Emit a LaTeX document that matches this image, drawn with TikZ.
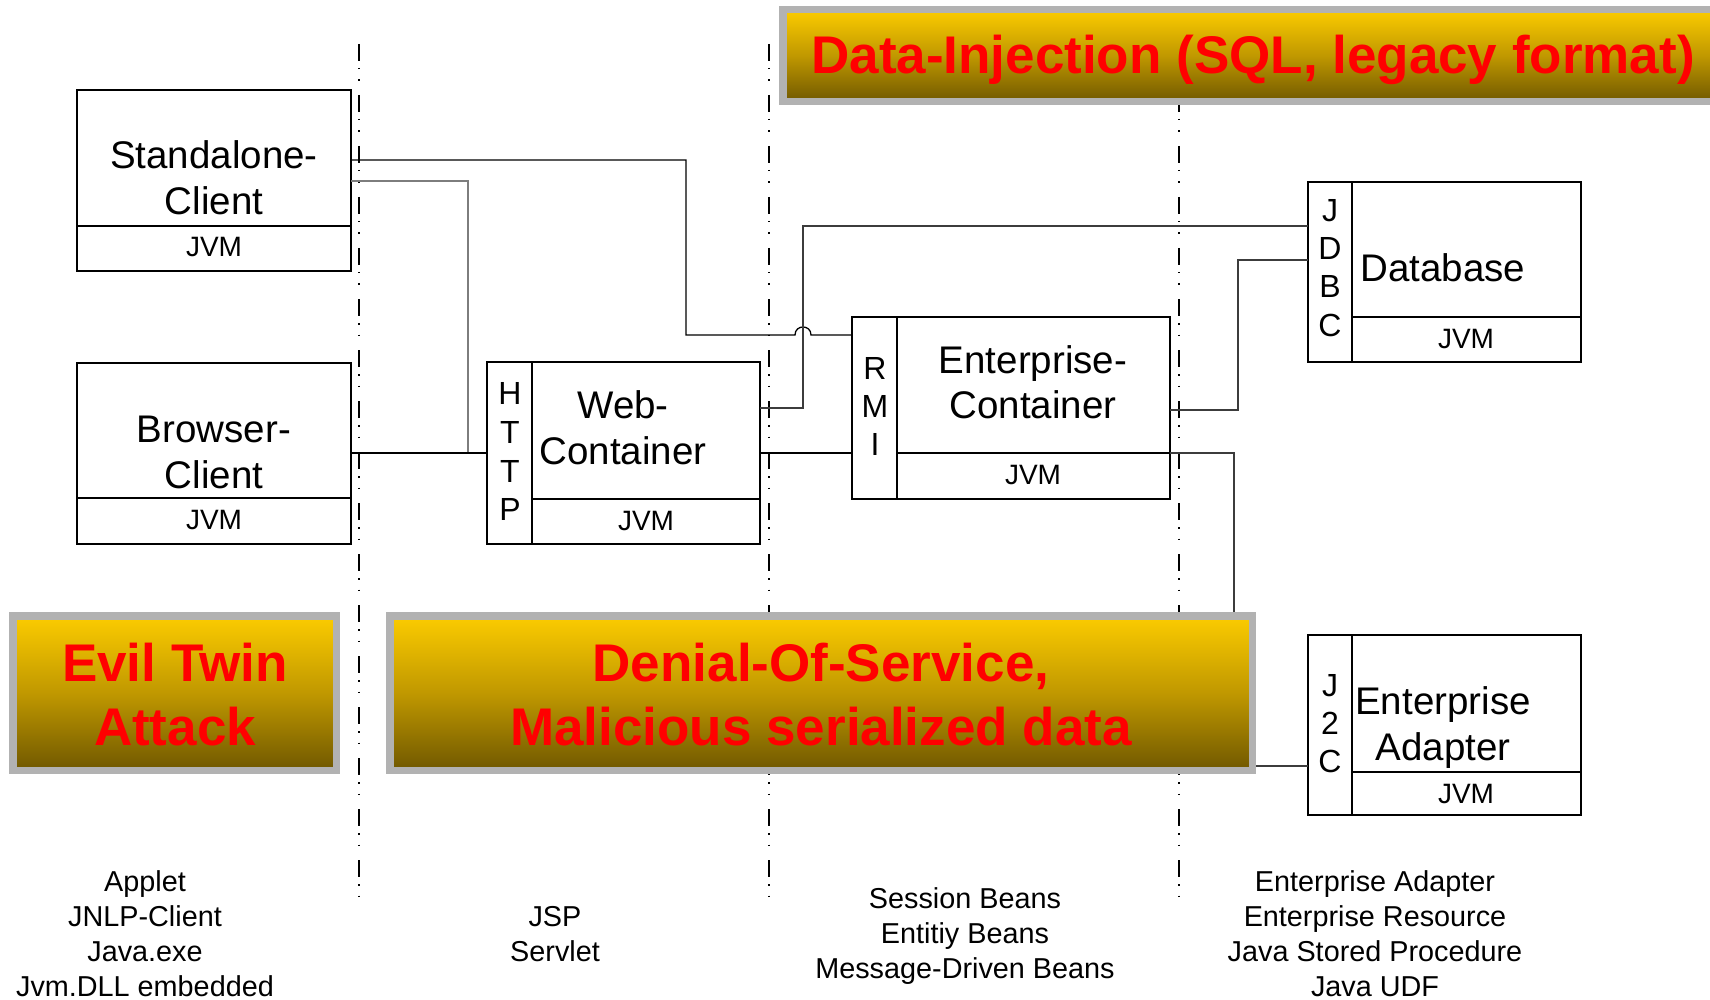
\documentclass[tikz,border=0pt]{standalone}
\usepackage{fontspec}
\setmainfont{Liberation Sans}
\definecolor{framegray}{RGB}{178,178,178}
\definecolor{goldtop}{RGB}{252,204,0}
\definecolor{goldmid}{RGB}{192,152,0}
\definecolor{goldbot}{RGB}{112,88,0}
\definecolor{linkgray}{RGB}{125,125,125}
\definecolor{linkdark}{RGB}{60,60,60}
\tikzset{
  compbox/.style={draw=black, line width=2pt, fill=white, inner sep=0pt,
    outer sep=0pt, anchor=north west, minimum height=181pt},
  sepline/.style={draw=black, line width=2pt},
  lbl/.style={font=\fontsize{38.5}{46}\selectfont, inner sep=0pt, anchor=base},
  jvmlbl/.style={font=\fontsize{28}{34}\selectfont, inner sep=0pt, anchor=base},
  letter/.style={font=\fontsize{32}{38}\selectfont, inner sep=0pt, anchor=base},
  note/.style={font=\fontsize{28.8}{35}\selectfont, inner sep=0pt, anchor=base},
  threat/.style={font=\fontsize{53}{64}\selectfont\bfseries, text=red,
    inner sep=0pt, anchor=base},
  threatbox/.style={draw=framegray, line width=7.5pt, top color=goldtop,
    bottom color=goldbot, middle color=goldmid, inner sep=0pt, outer sep=0pt,
    anchor=north west},
  divider/.style={line width=2pt,
    dash pattern=on 17pt off 7pt on 1.5pt off 10pt on 1.5pt off 14pt},
  conn/.style={draw=black, line width=1.3pt},
  connthick/.style={draw=black, line width=2pt},
  conngray/.style={draw=linkgray, line width=1.5pt},
  conndark/.style={draw=linkdark, line width=1.3pt},
}
\begin{document}
\begin{tikzpicture}[x=1pt, y=-1pt]
\useasboundingbox (0,0) rectangle (1710,1000);
\fill[white] (0,0) rectangle (1710,1000);

% tier boundaries
\draw[divider] (359,44) -- (359,900);
\draw[divider] (769,44) -- (769,900);
\draw[divider] (1179,44) -- (1179,900);

% components
\node[compbox, minimum width=274pt] (std) at (77,90) {};
\node[compbox, minimum width=274pt] (brw) at (77,363) {};
\node[compbox, minimum width=273pt, minimum height=182pt] (web) at (487,362) {};
\node[compbox, minimum width=318pt, minimum height=182pt] (ent) at (852,317) {};
\node[compbox, minimum width=273pt, minimum height=180pt] (db) at (1308,182) {};
\node[compbox, minimum width=273pt, minimum height=180pt] (ea) at (1308,635) {};

% JVM rows and protocol columns
\draw[sepline] (77,226) -- (351,226);
\draw[sepline] (77,498) -- (351,498);
\draw[sepline] (532,362) -- (532,544);
\draw[sepline] (532,499) -- (760,499);
\draw[sepline] (897,317) -- (897,499);
\draw[sepline] (897,453) -- (1170,453);
\draw[sepline] (1352,182) -- (1352,362);
\draw[sepline] (1352,317) -- (1581,317);
\draw[sepline] (1352,635) -- (1352,815);
\draw[sepline] (1352,772) -- (1581,772);

% component labels
\node[lbl] (stdA) at (214,169) {Standalone-};
\node[lbl] (stdB) at (214,215) {Client};
\node[jvmlbl] (stdJ) at (214,257) {JVM};
\node[lbl] (brwA) at (214,442) {Browser-};
\node[lbl] (brwB) at (214,488) {Client};
\node[jvmlbl] (brwJ) at (214,529) {JVM};
\node[lbl] (webA) at (623,418) {Web-};
\node[lbl] (webB) at (623,464) {Container};
\node[jvmlbl] (webJ) at (646,530) {JVM};
\node[lbl] (entA) at (1033,373) {Enterprise-};
\node[lbl] (entB) at (1033,418) {Container};
\node[jvmlbl] (entJ) at (1033,484) {JVM};
\node[lbl] (dbA) at (1443,282) {Database};
\node[jvmlbl] (dbJ) at (1466,348) {JVM};
\node[lbl] (eaA) at (1443,714) {Enterprise};
\node[lbl] (eaB) at (1443,760) {Adapter};
\node[jvmlbl] (eaJ) at (1466,803) {JVM};

% protocol letters
\foreach \ch/\yy in {H/404,T/443,T/482,P/520}
  \node[letter] (http-\yy) at (510,\yy) {\ch};
\foreach \ch/\yy in {R/379,M/417,I/455}
  \node[letter] (rmi-\yy) at (875,\yy) {\ch};
\foreach \ch/\yy in {J/222,D/260,B/298,C/336}
  \node[letter] (jdbc-\yy) at (1330,\yy) {\ch};
\foreach \ch/\yy in {J/696,2/734,C/772}
  \node[letter] (jca-\yy) at (1330,\yy) {\ch};

% connections
\coordinate (hopL) at (795,335);
\coordinate (hopR) at (811,335);
\draw[conn] (std.east |- 0,160) -- (686,160) -- (686,335) -- (hopL)
  .. controls (795,324.3) and (811,324.3) .. (hopR) -- (ent.west |- 0,335);
\draw[conngray] (std.east |- 0,181) -- (468,181) -- (468,453);
\draw[connthick] (brw.east |- 0,453) -- (web.west |- 0,453);
\draw[connthick] (web.east |- 0,453) -- (ent.west |- 0,453);
\draw[conndark] (web.east |- 0,408) -- (803,408) -- (803,226) -- (db.west |- 0,226);
\draw[conndark] (ent.east |- 0,410) -- (1238,410) -- (1238,260) -- (db.west |- 0,260);
\draw[conndark] (ent.east |- 0,453) -- (1234,453) -- (1234,766) -- (ea.west |- 0,766);

% threat banners
\node[threatbox, minimum width=957pt, minimum height=92pt] (inj) at (782.75,9.75) {};
\node[threatbox, minimum width=323.5pt, minimum height=154.5pt] (twin) at (12.75,615.75) {};
\node[threatbox, minimum width=862.5pt, minimum height=154.5pt] (dos) at (389.75,615.75) {};
\node[threat] (injT) at (1253,74) {Data-Injection (SQL, legacy format)};
\node[threat] (twinA) at (175,681) {Evil Twin};
\node[threat] (twinB) at (175,745) {Attack};
\node[threat] (dosA) at (821,681) {Denial-Of-Service,};
\node[threat] (dosB) at (821,745) {Malicious serialized data};

% technologies per tier
\node[note] (n1a) at (145,891) {Applet};
\node[note] (n1b) at (145,926) {JNLP-Client};
\node[note] (n1c) at (145,961) {Java.exe};
\node[note] (n1d) at (145,996) {Jvm.DLL embedded};
\node[note] (n2a) at (555,926) {JSP};
\node[note] (n2b) at (555,961) {Servlet};
\node[note] (n3a) at (965,908) {Session Beans};
\node[note] (n3b) at (965,943) {Entitiy Beans};
\node[note] (n3c) at (965,978) {Message-Driven Beans};
\node[note] (n4a) at (1375,891) {Enterprise Adapter};
\node[note] (n4b) at (1375,926) {Enterprise Resource};
\node[note] (n4c) at (1375,961) {Java Stored Procedure};
\node[note] (n4d) at (1375,996) {Java UDF};
\end{tikzpicture}
\end{document}
